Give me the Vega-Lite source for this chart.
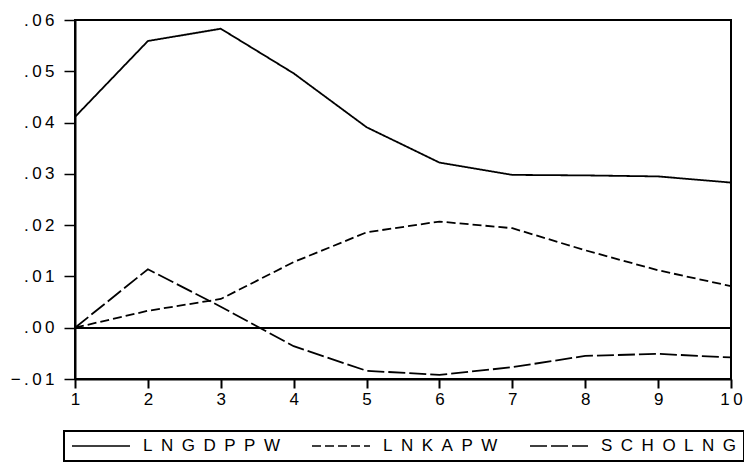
{
  "$schema": "https://vega.github.io/schema/vega-lite/v6.json",
  "autosize": {"type": "none"},
  "width": 656,
  "height": 359,
  "padding": {"left": 75, "top": 20, "right": 13, "bottom": 87},
  "background": "white",
  "config": {
    "view": {"stroke": "black", "strokeWidth": 2},
    "font": "Liberation Sans",
    "legend": {"strokeWidth": 2},
    "axis": {"grid": false, "domainColor": "black", "tickColor": "black", "labelColor": "black", "labelFont": "Liberation Sans", "labelFontSize": 17, "title": null}
  },
  "data": {
    "values": [
      {"h": 1, "series": "LNGDPPW", "value": 0.0411},
      {"h": 2, "series": "LNGDPPW", "value": 0.0559},
      {"h": 3, "series": "LNGDPPW", "value": 0.0583},
      {"h": 4, "series": "LNGDPPW", "value": 0.0496},
      {"h": 5, "series": "LNGDPPW", "value": 0.0391},
      {"h": 6, "series": "LNGDPPW", "value": 0.0322},
      {"h": 7, "series": "LNGDPPW", "value": 0.0298},
      {"h": 8, "series": "LNGDPPW", "value": 0.0297},
      {"h": 9, "series": "LNGDPPW", "value": 0.0295},
      {"h": 10, "series": "LNGDPPW", "value": 0.0283},
      {"h": 1, "series": "LNKAPW", "value": 0.0},
      {"h": 2, "series": "LNKAPW", "value": 0.0033},
      {"h": 3, "series": "LNKAPW", "value": 0.0056},
      {"h": 4, "series": "LNKAPW", "value": 0.0128},
      {"h": 5, "series": "LNKAPW", "value": 0.0186},
      {"h": 6, "series": "LNKAPW", "value": 0.0207},
      {"h": 7, "series": "LNKAPW", "value": 0.0194},
      {"h": 8, "series": "LNKAPW", "value": 0.0151},
      {"h": 9, "series": "LNKAPW", "value": 0.0112},
      {"h": 10, "series": "LNKAPW", "value": 0.0081},
      {"h": 1, "series": "SCHOLNG", "value": 0.0},
      {"h": 2, "series": "SCHOLNG", "value": 0.0114},
      {"h": 3, "series": "SCHOLNG", "value": 0.0041},
      {"h": 4, "series": "SCHOLNG", "value": -0.0036},
      {"h": 5, "series": "SCHOLNG", "value": -0.0084},
      {"h": 6, "series": "SCHOLNG", "value": -0.0092},
      {"h": 7, "series": "SCHOLNG", "value": -0.0077},
      {"h": 8, "series": "SCHOLNG", "value": -0.0055},
      {"h": 9, "series": "SCHOLNG", "value": -0.0051},
      {"h": 10, "series": "SCHOLNG", "value": -0.0058}
    ]
  },
  "layer": [
    {
      "mark": {"type": "rule", "color": "black", "strokeWidth": 1.5},
      "encoding": {"y": {"datum": 0, "type": "quantitative"}}
    },
    {
      "mark": {"type": "line", "color": "black", "strokeWidth": 1.8},
      "encoding": {
        "x": {
          "field": "h", "type": "quantitative",
          "scale": {"domain": [1, 10], "nice": false, "zero": false},
          "axis": {
            "values": [1, 2, 3, 4, 5, 6, 7, 8, 9, 10],
            "domainWidth": 2, "tickWidth": 2, "tickSize": 9, "labelPadding": 3,
            "labelExpr": "join(split(datum.label, ''), '\u2009')",
            "labelFlush": false
          }
        },
        "y": {
          "field": "value", "type": "quantitative",
          "scale": {"domain": [-0.01, 0.06], "nice": false, "zero": false},
          "axis": {
            "values": [-0.01, 0, 0.01, 0.02, 0.03, 0.04, 0.05, 0.06],
            "domainWidth": 2, "tickWidth": 1.5, "tickSize": 11, "labelPadding": 10,
            "labelExpr": "join(split(replace(format(datum.value, '.2f'), '0.', '.'), ''), '\u2009')",
            "labelFlush": false
          }
        },
        "strokeDash": {
          "field": "series", "type": "nominal",
          "scale": {"domain": ["LNGDPPW", "LNKAPW", "SCHOLNG"], "range": [[1, 0], [9, 4], [17, 4]]},
          "legend": {
            "title": null,
            "orient": "none",
            "legendX": -11,
            "legendY": 411,
            "direction": "horizontal",
            "columns": 3,
            "columnPadding": 31,
            "padding": 7,
            "clipHeight": 16,
            "strokeColor": "black",
            "symbolType": "stroke",
            "symbolSize": 3364,
            "symbolStrokeWidth": 1.6,
            "symbolStrokeColor": "black",
            "labelOffset": 12,
            "labelFont": "Liberation Sans",
            "labelFontSize": 17,
            "labelColor": "black",
            "labelExpr": "join(split(datum.label, ''), '\u2002')"
          }
        }
      }
    }
  ]
}
